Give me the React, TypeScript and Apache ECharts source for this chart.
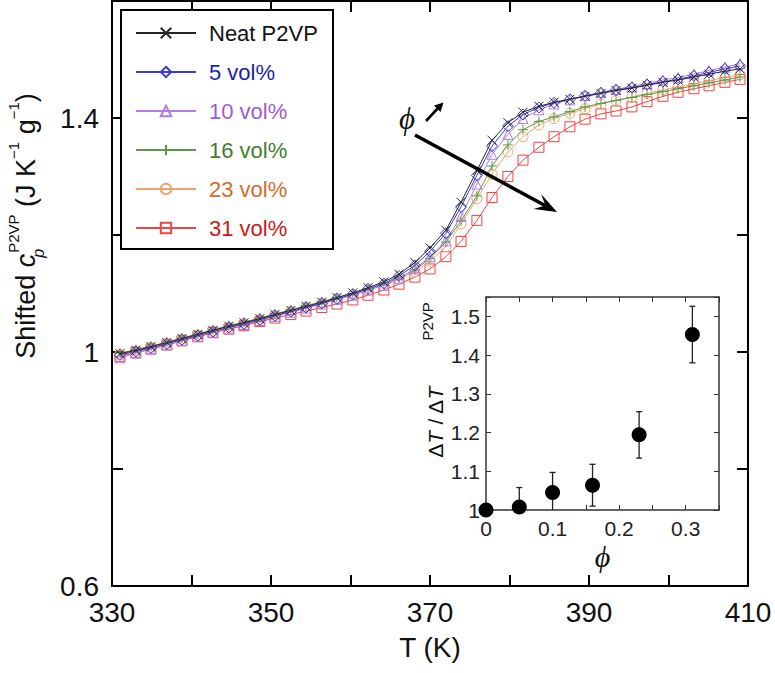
import React, { useEffect, useRef } from 'react';
import * as echarts from 'echarts';

// ---------- data ----------
const temperatures = [331.0, 333.0, 334.9, 336.9, 338.8, 340.8, 342.7, 344.7, 346.6, 348.6, 350.5, 352.5, 354.4, 356.4, 358.3, 360.3, 362.2, 364.2, 366.1, 368.1, 370.0, 372.0, 373.9, 375.9, 377.8, 379.8, 381.7, 383.7, 385.6, 387.6, 389.5, 391.5, 393.4, 395.4, 397.3, 399.3, 401.2, 403.2, 405.1, 407.1, 409.0];

const cpNeat = [0.997, 1.003, 1.009, 1.016, 1.023, 1.030, 1.037, 1.044, 1.050, 1.057, 1.064, 1.071, 1.078, 1.085, 1.093, 1.101, 1.110, 1.120, 1.133, 1.153, 1.178, 1.208, 1.256, 1.310, 1.362, 1.392, 1.410, 1.420, 1.427, 1.432, 1.437, 1.442, 1.447, 1.451, 1.456, 1.461, 1.465, 1.470, 1.475, 1.480, 1.484];
const cp5 = [0.995, 1.001, 1.007, 1.014, 1.021, 1.028, 1.035, 1.042, 1.048, 1.055, 1.062, 1.069, 1.076, 1.083, 1.091, 1.099, 1.108, 1.117, 1.130, 1.148, 1.172, 1.203, 1.248, 1.302, 1.352, 1.386, 1.406, 1.418, 1.426, 1.432, 1.438, 1.443, 1.448, 1.452, 1.457, 1.462, 1.466, 1.472, 1.478, 1.484, 1.489];
const cp10 = [0.990, 0.998, 1.005, 1.012, 1.020, 1.027, 1.034, 1.041, 1.047, 1.054, 1.061, 1.068, 1.075, 1.082, 1.090, 1.097, 1.106, 1.114, 1.126, 1.142, 1.163, 1.190, 1.232, 1.287, 1.338, 1.372, 1.399, 1.414, 1.424, 1.431, 1.438, 1.444, 1.449, 1.454, 1.459, 1.465, 1.469, 1.475, 1.481, 1.487, 1.493];
const cp16 = [0.998, 1.004, 1.010, 1.017, 1.024, 1.031, 1.038, 1.045, 1.051, 1.058, 1.065, 1.072, 1.079, 1.086, 1.093, 1.100, 1.108, 1.116, 1.127, 1.140, 1.160, 1.188, 1.224, 1.267, 1.318, 1.354, 1.380, 1.394, 1.402, 1.411, 1.419, 1.425, 1.430, 1.435, 1.440, 1.445, 1.450, 1.455, 1.460, 1.465, 1.470];
const cp23 = [0.996, 1.002, 1.008, 1.015, 1.022, 1.029, 1.036, 1.043, 1.049, 1.056, 1.063, 1.070, 1.077, 1.084, 1.091, 1.098, 1.106, 1.114, 1.124, 1.137, 1.155, 1.180, 1.219, 1.262, 1.304, 1.342, 1.368, 1.388, 1.399, 1.408, 1.416, 1.424, 1.430, 1.436, 1.442, 1.448, 1.453, 1.458, 1.464, 1.469, 1.474];
const cp31 = [0.992, 0.999, 1.005, 1.012, 1.019, 1.026, 1.033, 1.039, 1.045, 1.052, 1.058, 1.064, 1.070, 1.076, 1.082, 1.089, 1.097, 1.106, 1.116, 1.128, 1.142, 1.163, 1.189, 1.225, 1.264, 1.300, 1.328, 1.350, 1.368, 1.385, 1.398, 1.407, 1.412, 1.419, 1.428, 1.437, 1.444, 1.450, 1.455, 1.461, 1.466];

const seriesNames = ['Neat P2VP', '5 vol%', '10 vol%', '16 vol%', '23 vol%', '31 vol%'];
const seriesValues = [cpNeat, cp5, cp10, cp16, cp23, cp31];

// inset
const phiValues = [0, 0.05, 0.10, 0.16, 0.23, 0.31];
const widthRatio = [1.0, 1.008, 1.045, 1.064, 1.194, 1.453];
const widthRatioErr = [0, 0.05, 0.052, 0.054, 0.06, 0.073];

// tick labels
const mainXLabels = [330, 350, 370, 390, 410];
const mainYLabels = [0.6, 1, 1.4];
const insetXLabels = [0, 0.1, 0.2, 0.3];
const insetYLabels = [1, 1.1, 1.2, 1.3, 1.4, 1.5];

// ---------- styles ----------
const F = '"Liberation Sans", Arial, Helvetica, sans-serif';
const S = '"Liberation Serif", "DejaVu Serif", serif';

const lineColors = ['#262626', '#3b3bd6', '#b27ce2', '#5a9a46', '#f0a272', '#ee4444'];
const textColors = ['#111111', '#1d1db4', '#a25ad2', '#3f7f2c', '#d36c2c', '#d01818'];
const symbols = [
  'path://M0,0L10,10M10,0L0,10',
  'diamond',
  'triangle',
  'path://M5,0L5,10M0,5L10,5',
  'circle',
  'rect',
];
const symbolSizes = [9, 11, 10, 10, 10, 10];

const near = (v: number, list: number[]) => list.some((l) => Math.abs(l - v) < 1e-6);

export default function App() {
  const ref = useRef<HTMLDivElement>(null);

  useEffect(() => {
    if (!ref.current) return;
    const chart = echarts.init(ref.current, null, { renderer: 'svg' });

    const lineSeries: any[] = [];
    for (let k = seriesNames.length - 1; k >= 0; k--) {
      lineSeries.push({
        type: 'line',
        name: seriesNames[k],
        xAxisIndex: 0,
        yAxisIndex: 0,
        data: temperatures.map((t, i) => [t, seriesValues[k][i]]),
        symbol: symbols[k],
        symbolSize: symbolSizes[k],
        showSymbol: true,
        showAllSymbol: true,
        lineStyle: { color: lineColors[k], width: 1 },
        itemStyle: { color: 'transparent', borderColor: lineColors[k], borderWidth: 1 },
        emphasis: { disabled: true },
        z: 2 + (seriesNames.length - k) * 0.1,
      });
    }

    const mainAxisLine = { show: true, onZero: false, lineStyle: { color: '#000', width: 2 } };
    const mainTick = { show: true, inside: true, length: 11, lineStyle: { color: '#000', width: 2 } };
    const insetAxisLine = { show: true, onZero: false, lineStyle: { color: '#333', width: 1.5 } };
    const insetTick = { show: true, inside: true, length: 5, lineStyle: { color: '#333', width: 1 } };

    const legendData = seriesNames.map((n, i) => ({ name: n, textStyle: { color: textColors[i] } }));

    const option: any = {
      animation: false,
      backgroundColor: '#ffffff',
      grid: [
        { left: 112, right: 27, top: 1, bottom: 87 },
        { left: 486, right: 56, top: 297, bottom: 163 },
      ],
      legend: {
        orient: 'vertical',
        left: 135,
        top: 21,
        padding: 0,
        itemWidth: 60,
        itemHeight: 13,
        itemGap: 15,
        selectedMode: false,
        data: legendData,
        textStyle: { fontSize: 22, fontFamily: F, lineHeight: 24, padding: [0, 0, 0, 8] },
        z: 6,
      },
      xAxis: [
        {
          gridIndex: 0, type: 'value', min: 330, max: 410, interval: 10, position: 'bottom',
          axisLine: mainAxisLine, axisTick: mainTick, splitLine: { show: false },
          axisLabel: {
            margin: 12, fontSize: 28, fontFamily: F, color: '#111',
            formatter: (v: number) => (near(v, mainXLabels) ? String(v) : ''),
          },
          name: 'T (K)', nameLocation: 'middle', nameGap: 47,
          nameTextStyle: { fontSize: 28, fontFamily: F, color: '#111' },
        },
        {
          gridIndex: 0, type: 'value', min: 330, max: 410, interval: 10, position: 'top',
          axisLine: mainAxisLine, axisTick: mainTick, splitLine: { show: false }, axisLabel: { show: false },
        },
        {
          gridIndex: 1, type: 'value', min: 0, max: 0.35, interval: 0.05, position: 'bottom',
          axisLine: insetAxisLine, axisTick: insetTick, splitLine: { show: false },
          axisLabel: {
            margin: 8, fontSize: 21, fontFamily: F, color: '#222',
            formatter: (v: number) => (near(v, insetXLabels) ? String(Math.round(v * 10) / 10) : ''),
          },
          name: 'ϕ', nameLocation: 'middle', nameGap: 31,
          nameTextStyle: { fontSize: 30, fontStyle: 'italic', fontFamily: S, color: '#111' },
        },
        {
          gridIndex: 1, type: 'value', min: 0, max: 0.35, interval: 0.05, position: 'top',
          axisLine: insetAxisLine, axisTick: insetTick, splitLine: { show: false }, axisLabel: { show: false },
        },
      ],
      yAxis: [
        {
          gridIndex: 0, type: 'value', min: 0.6, max: 1.6, interval: 0.2, position: 'left',
          axisLine: mainAxisLine, axisTick: mainTick, splitLine: { show: false },
          axisLabel: {
            margin: 13, fontSize: 28, fontFamily: F, color: '#111',
            formatter: (v: number) => (near(v, mainYLabels) ? String(Math.round(v * 10) / 10) : ''),
          },
        },
        {
          gridIndex: 0, type: 'value', min: 0.6, max: 1.6, interval: 0.2, position: 'right',
          axisLine: mainAxisLine, axisTick: mainTick, splitLine: { show: false }, axisLabel: { show: false },
        },
        {
          gridIndex: 1, type: 'value', min: 1, max: 1.55, interval: 0.1, position: 'left',
          axisLine: insetAxisLine, axisTick: insetTick, splitLine: { show: false },
          axisLabel: {
            margin: 6, fontSize: 21, fontFamily: F, color: '#222',
            formatter: (v: number) => (near(v, insetYLabels) ? String(Math.round(v * 10) / 10) : ''),
          },
        },
        {
          gridIndex: 1, type: 'value', min: 1, max: 1.55, interval: 0.1, position: 'right',
          axisLine: insetAxisLine, axisTick: insetTick, splitLine: { show: false }, axisLabel: { show: false },
        },
      ],
      series: [
        ...lineSeries,
        {
          type: 'custom',
          name: 'errorbars',
          xAxisIndex: 2,
          yAxisIndex: 2,
          clip: false,
          z: 4,
          data: phiValues.map((p, i) => [p, widthRatio[i], widthRatioErr[i]]),
          renderItem: (params: any, api: any) => {
            const x = api.value(0);
            const y = api.value(1);
            const e = api.value(2);
            if (!e) return { type: 'group', children: [] };
            const lowV = Math.max(y - e, 1);
            const top = api.coord([x, y + e]);
            const bot = api.coord([x, lowV]);
            const st = { stroke: '#222', lineWidth: 1.3 };
            const children: any[] = [
              { type: 'line', shape: { x1: top[0], y1: top[1], x2: bot[0], y2: bot[1] }, style: st },
              { type: 'line', shape: { x1: top[0] - 3, y1: top[1], x2: top[0] + 3, y2: top[1] }, style: st },
            ];
            if (y - e >= 1) {
              children.push({ type: 'line', shape: { x1: bot[0] - 3, y1: bot[1], x2: bot[0] + 3, y2: bot[1] }, style: st });
            }
            return { type: 'group', children };
          },
        },
        {
          type: 'scatter',
          name: 'ratio',
          xAxisIndex: 2,
          yAxisIndex: 2,
          clip: false,
          z: 5,
          symbol: 'circle',
          symbolSize: 15,
          itemStyle: { color: '#000', opacity: 1 },
          emphasis: { disabled: true },
          data: phiValues.map((p, i) => [p, widthRatio[i]]),
        },
      ],
      graphic: [
        {
          type: 'rect', z: 3,
          shape: { x: 121, y: 10, width: 212, height: 239 },
          style: { fill: '#fff', stroke: '#000', lineWidth: 2 },
        },
        {
          type: 'text', z: 10, x: 26, y: 226, rotation: Math.PI / 2,
          style: {
            text: '{b|Shifted }{i|c}{sub|p}{sup|P2VP}{b| (J K}{sup|−1}{b| g}{sup|−1}{b|)}',
            align: 'center', verticalAlign: 'middle', fill: '#111',
            rich: {
              b: { fontSize: 27, fontFamily: F, lineHeight: 40, verticalAlign: 'middle', fill: '#111' },
              i: { fontSize: 27, fontFamily: F, fontStyle: 'italic', lineHeight: 40, verticalAlign: 'middle', fill: '#111' },
              sub: { fontSize: 16, fontFamily: F, fontStyle: 'italic', lineHeight: 18, width: 1, verticalAlign: 'bottom', fill: '#111' },
              sup: { fontSize: 15, fontFamily: F, lineHeight: 15, verticalAlign: 'top', fill: '#111' },
            },
          },
        },
        {
          type: 'text', z: 10, x: 435, y: 380, rotation: Math.PI / 2,
          style: {
            text: '{b|Δ}{i|T}{b| / Δ}{i|T}{sup|P2VP}',
            align: 'center', verticalAlign: 'middle', fill: '#111',
            rich: {
              b: { fontSize: 21, fontFamily: F, lineHeight: 30, verticalAlign: 'middle', fill: '#111' },
              i: { fontSize: 21, fontFamily: F, fontStyle: 'italic', lineHeight: 30, verticalAlign: 'middle', fill: '#111' },
              sup: { fontSize: 15, fontFamily: F, lineHeight: 15, verticalAlign: 'top', padding: [0, 0, 0, 46], fill: '#111' },
            },
          },
        },
        {
          type: 'text', z: 10, x: 407, y: 118,
          style: {
            text: 'ϕ', fontSize: 31, fontStyle: 'italic', fontFamily: S, fill: '#111',
            align: 'center', verticalAlign: 'middle',
          },
        },
        {
          type: 'line', z: 10,
          shape: { x1: 426, y1: 121, x2: 439, y2: 107 },
          style: { stroke: '#000', lineWidth: 2.6 },
        },
        {
          type: 'polygon', z: 10,
          shape: { points: [[443.5, 102.5], [434, 105.5], [440.5, 112]] },
          style: { fill: '#000' },
        },
        {
          type: 'line', z: 10,
          shape: { x1: 415, y1: 135, x2: 545, y2: 205.5 },
          style: { stroke: '#000', lineWidth: 3.6 },
        },
        {
          type: 'polygon', z: 10,
          shape: { points: [[557, 212], [541, 194], [545.5, 205.5], [533.5, 209]] },
          style: { fill: '#000' },
        },
      ],
    };

    chart.setOption(option);
    return () => chart.dispose();
  }, []);

  return <div ref={ref} style={{ position: 'absolute', left: 0, top: 0, width: 775, height: 673 }} />;
}
